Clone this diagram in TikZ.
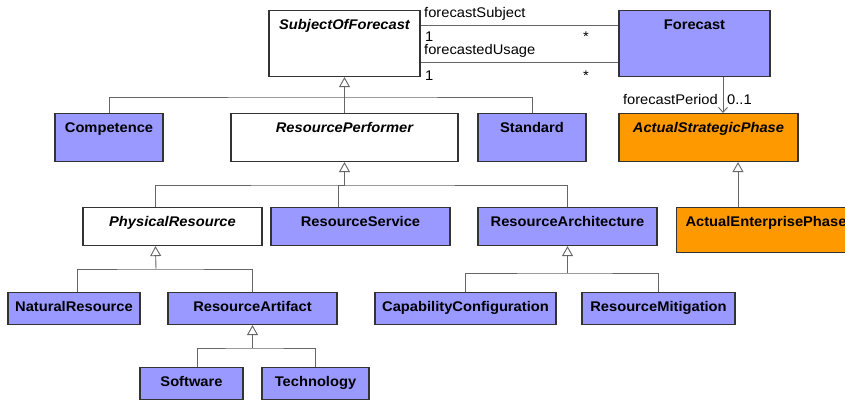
\documentclass[tikz,border=0pt]{standalone}
\usepackage{fontspec}
\setmainfont[FakeStretch=1.05]{Liberation Sans}
\usepackage{xcolor}
\usetikzlibrary{arrows.meta,positioning}

\definecolor{umlblue}{HTML}{9999FF}
\definecolor{umlorange}{HTML}{FF9900}
\newcommand{\umlfont}{\fontsize{14}{16}\selectfont}

\begin{document}
\begin{tikzpicture}[x=1pt, y=-1pt,
    cls/.style={rectangle, draw=black!80, line width=1.1pt, anchor=north, inner xsep=0pt, inner ysep=4pt, text height=15pt, font=\umlfont\bfseries},
    concrete/.style={cls, fill=umlblue},
    abstract/.style={cls, fill=white, font=\umlfont\bfseries\itshape},
    phase/.style={cls, fill=umlorange},
    tag/.style={inner sep=0pt, font=\umlfont},
    tree/.style={draw=black!60, line width=0.9pt},
    gen/.style={tree, -{Triangle[open, length=10pt, width=11pt]}},
    line/.style={draw=black!60, line width=0.9pt},
    nav/.style={line, -{Straight Barb[length=5pt, width=9pt]}}]

    \useasboundingbox (0,0) rectangle (845,400);
    \clip (0,0) rectangle (845,400);

    % classes
    \node [abstract, minimum width=151pt, text depth=43pt] (sof) at (344.5,10) {SubjectOfForecast};
    \node [concrete, minimum width=151pt, text depth=43pt] (fc) at (694.5,10) {Forecast};

    \node [concrete, minimum width=108pt, text depth=25pt] (comp) at (109,113) {Competence};
    \node [abstract, minimum width=227pt, text depth=25pt] (rp) at (344.5,113) {ResourcePerformer};
    \node [concrete, minimum width=108pt, text depth=25pt] (std) at (532,113) {Standard};
    \node [phase, minimum width=179pt, text depth=25pt, font=\umlfont\bfseries\itshape] (asp) at (708.5,113) {ActualStrategicPhase};

    \node [abstract, minimum width=179pt, text depth=15pt] (pr) at (172.5,207) {PhysicalResource};
    \node [concrete, minimum width=179pt, text depth=15pt] (rs) at (360.5,207) {ResourceService};
    \node [concrete, minimum width=179pt, text depth=15pt] (ra) at (567.5,207) {ResourceArchitecture};
    \node [phase, anchor=north west, inner xsep=9pt, text width=182pt, align=left, text depth=22pt] (aep) at (676,207) {ActualEnterprisePhase};

    \node [concrete, minimum width=132pt, text depth=9pt] (nr) at (74,292) {NaturalResource};
    \node [concrete, minimum width=169pt, text depth=9pt] (rart) at (252.5,292) {ResourceArtifact};
    \node [concrete, minimum width=181pt, text depth=9pt] (cc) at (465.5,292) {CapabilityConfiguration};
    \node [concrete, minimum width=153pt, text depth=9pt] (rm) at (658.5,292) {ResourceMitigation};

    \node [concrete, minimum width=103pt, text depth=9pt] (sw) at (191.5,367) {Software};
    \node [concrete, minimum width=107pt, text depth=9pt] (tech) at (315.5,367) {Technology};

    % associations
    \path [line] ([yshift=-15pt]sof.north east) -- ([yshift=-15pt]fc.north west);
    \path [line] ([yshift=-52pt]sof.north east) -- ([yshift=-52pt]fc.north west);
    \node [tag, anchor=base west] (subj) at (424,17) {forecastSubject};
    \node [tag, anchor=base west] (subjone) at (425,41) {1};
    \node [tag, anchor=base west] (subjmany) at (583,41) {*};
    \node [tag, anchor=base west] (usage) at (424,54) {forecastedUsage};
    \node [tag, anchor=base west] (usageone) at (425,80) {1};
    \node [tag, anchor=base west] (usagemany) at (583,80) {*};

    \path [nav] ([xshift=28.5pt]fc.south) -- ([xshift=14.5pt]asp.north);
    \node [tag, anchor=base east] (period) at (718,104) {forecastPeriod};
    \node [tag, anchor=base west] (periodmult) at (727,104) {0..1};

    % generalizations
    \coordinate (sofjn) at (344.5,97);
    \path [tree] (comp) |- (sofjn) -| (std);
    \path [gen] (rp) -- (sof);

    \coordinate (rpjn) at (344.5,185);
    \path [tree] ([xshift=73pt]pr.north west) |- (rpjn) -| (ra);
    \path [tree] ([xshift=68pt]rs.north west) |- (rpjn);
    \path [gen] (rpjn) -- (rp);

    \coordinate (prjn) at (156,269);
    \path [tree] ([xshift=70pt]nr.north west) |- (prjn) -| (rart);
    \path [gen] (prjn) -- ([xshift=73pt]pr.south west);

    \coordinate (rajn) at (567.5,273);
    \path [tree] (cc) |- (rajn) -| (rm);
    \path [gen] (rajn) -- (ra);

    \coordinate (rartjn) at (252.5,348);
    \path [tree] ([xshift=58pt]sw.north west) |- (rartjn) -| (tech);
    \path [gen] (rartjn) -- (rart);

    \path [gen] ([xshift=62pt]aep.north west) -- ([xshift=29.5pt]asp.south);
\end{tikzpicture}
\end{document}
